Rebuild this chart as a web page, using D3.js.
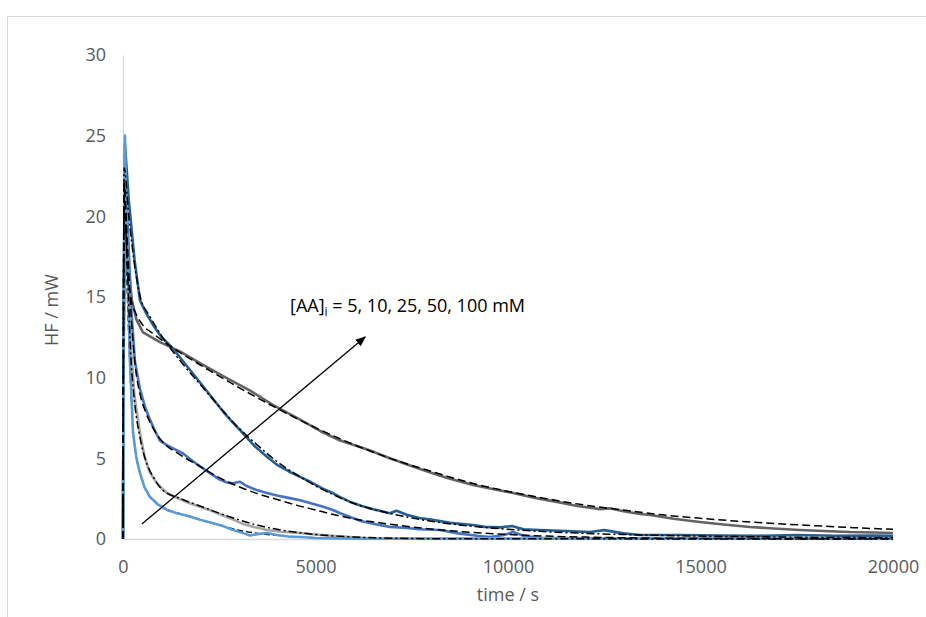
<!doctype html>
<html>
<head>
<meta charset="utf-8">
<title>HF</title>
<style>
  body { margin: 0; background: #fff; }
  svg { display: block; font-family: "Open Sans", sans-serif; }
</style>
</head>
<body>
<svg width="926" height="617"></svg>
<script src="https://cdn.jsdelivr.net/npm/d3@7"></script>
<script>
// [t (s), HF (mW)]
var aa5 = [[0,0],[20,14],[50,25],[100,19],[180,11],[260,6.6],[350,5.0],[440,4.1],[560,3.2],[700,2.6],[900,2.15],[1140,1.8],[1400,1.6],[1700,1.42],[2000,1.2],[2300,1.0],[2600,0.8],[2860,0.56],[3100,0.38],[3300,0.22],[3500,0.3],[3740,0.37],[4000,0.25],[4300,0.15],[4600,0.12],[5000,0.06],[5500,0.04],[6000,0.03],[7000,0.02],[20000,0.02]];
var aa10 = [[0,0],[20,13],[50,23],[110,18],[200,12],[300,8.8],[440,6.6],[560,5.1],[700,4.1],[900,3.4],[1140,2.85],[1400,2.55],[1700,2.25],[2000,2.0],[2300,1.75],[2600,1.45],[2860,1.2],[3100,0.95],[3400,0.75],[3740,0.56],[4100,0.45],[4600,0.37],[5000,0.28],[5500,0.18],[5900,0.12],[6400,0.05],[7000,0.03],[20000,0.02]];
var aa25 = [[0,0],[20,14],[60,23],[130,19],[220,14],[310,11],[440,9.3],[570,8.2],[700,7.4],[830,6.7],[960,6.1],[1150,5.8],[1350,5.55],[1560,5.3],[1800,4.85],[2000,4.5],[2250,4.1],[2500,3.7],[2700,3.5],[2850,3.45],[3040,3.55],[3200,3.3],[3450,3.05],[3740,2.85],[4000,2.7],[4300,2.55],[4600,2.4],[4900,2.2],[5200,2.0],[5450,1.8],[5640,1.6],[5900,1.36],[6200,1.1],[6600,0.9],[6930,0.75],[7300,0.7],[7700,0.6],[8230,0.56],[8700,0.35],[9200,0.2],[9530,0.12],[9900,0.25],[10130,0.43],[10400,0.2],[10830,0.08],[11500,0.06],[12500,0.05],[14000,0.04],[16000,0.05],[18000,0.04],[20000,0.05]];
var aa50 = [[0,0],[20,15],[50,24.5],[150,21],[300,17.3],[440,14.8],[600,14.0],[800,13.2],[1000,12.5],[1140,12.2],[1400,11.5],[1700,10.6],[2000,9.7],[2300,8.8],[2600,7.9],[2860,7.2],[3100,6.6],[3400,5.8],[3740,5.1],[4000,4.6],[4300,4.2],[4600,3.85],[4900,3.5],[5200,3.1],[5450,2.85],[5640,2.6],[5900,2.3],[6200,2.05],[6500,1.85],[6930,1.6],[7100,1.75],[7370,1.5],[7700,1.3],[8000,1.2],[8500,1.0],[9090,0.87],[9400,0.75],[9800,0.72],[10100,0.8],[10400,0.6],[10830,0.56],[11500,0.5],[12130,0.43],[12500,0.55],[13000,0.35],[13430,0.25],[14500,0.25],[15500,0.22],[16500,0.2],[17500,0.25],[18500,0.2],[19500,0.22],[20000,0.2]];
var aa100 = [[0,0],[20,12],[50,21],[120,17.5],[230,14.8],[350,13.6],[520,12.8],[960,12.2],[1500,11.6],[2000,10.9],[2600,10.1],[3300,9.2],[3900,8.3],[4600,7.4],[5200,6.6],[5640,6.1],[5900,5.9],[6400,5.5],[6930,5.0],[7400,4.6],[7790,4.28],[8400,3.8],[9090,3.35],[9600,3.1],[10130,2.85],[10700,2.55],[11270,2.3],[11800,2.05],[12390,1.85],[12650,1.9],[13000,1.72],[13430,1.55],[13690,1.49],[14300,1.25],[14980,1.05],[15600,0.9],[16280,0.74],[16900,0.65],[17580,0.56],[18200,0.5],[18880,0.43],[19500,0.4],[20000,0.37]];

// model fits (black dashed)
var fit5 = [[0,0],[30,22],[100,16],[180,10.5],[260,6.8],[350,5.0],[450,4.0],[600,3.0],[800,2.4],[1100,1.9],[1500,1.55],[2000,1.2],[2500,0.85],[3000,0.55],[3500,0.35],[4000,0.22],[5000,0.08],[6000,0.03],[20000,0]];
var fit10 = [[0,0],[30,21],[110,17],[200,11.5],[300,8.5],[440,6.3],[600,4.8],[800,3.8],[1000,3.1],[1500,2.5],[2000,2.05],[2500,1.6],[3000,1.2],[3500,0.85],[4000,0.6],[4500,0.42],[5000,0.28],[6000,0.12],[7000,0.05],[8000,0.02],[20000,0]];
var fit25 = [[0,0],[30,22],[120,18],[220,13.5],[320,10.7],[450,8.9],[600,7.8],[800,6.8],[1000,6.1],[1500,5.2],[2000,4.5],[2500,3.8],[3000,3.25],[3500,2.8],[4000,2.45],[4500,2.1],[5000,1.8],[5500,1.5],[6000,1.25],[7000,0.9],[8000,0.62],[9000,0.42],[10000,0.28],[11000,0.18],[12000,0.12],[14000,0.05],[20000,0.01]];
var fit50 = [[0,0],[30,23],[150,20],[300,17.0],[450,15],[700,13.8],[1000,12.6],[1500,11.0],[2000,9.6],[2500,8.2],[3000,6.9],[3500,5.8],[4000,4.8],[4500,4.0],[5000,3.3],[5500,2.7],[6000,2.2],[7000,1.55],[8000,1.1],[9000,0.8],[10000,0.6],[11000,0.45],[12000,0.35],[13000,0.28],[14000,0.22],[16000,0.15],[18000,0.1],[20000,0.08]];
var fit100 = [[0,0],[30,22],[100,17.5],[200,15.0],[350,13.9],[500,13.3],[800,12.7],[1200,12.0],[2000,10.8],[3000,9.4],[4000,8.1],[5000,6.9],[6000,5.85],[7000,4.95],[8000,4.2],[9000,3.5],[10000,2.95],[11000,2.5],[12000,2.1],[13000,1.8],[14000,1.5],[15000,1.28],[16000,1.1],[17000,0.95],[18000,0.82],[19000,0.7],[20000,0.6]];

var xTicks = [0, 5000, 10000, 15000, 20000];
var yTicks = [0, 5, 10, 15, 20, 25, 30];

var svg = d3.select("svg"),
    margin = { top: 55, right: 33, bottom: 78, left: 123 },
    width = +svg.attr("width") - margin.left - margin.right,
    height = +svg.attr("height") - margin.top - margin.bottom;

// outer chart frame
svg.append("rect")
    .attr("x", 7.5).attr("y", 16.5)
    .attr("width", 940).attr("height", 640)
    .attr("fill", "none").attr("stroke", "#d9d9d9");

var g = svg.append("g").attr("transform", "translate(" + margin.left + "," + margin.top + ")");

var x = d3.scaleLinear().domain([0, 20000]).range([0, width]);
var y = d3.scaleLinear().domain([0, 30]).range([height, 0]);

var xAxisG = g.append("g")
    .attr("transform", "translate(0," + height + ")")
    .call(d3.axisBottom(x).tickValues(xTicks).tickSize(0).tickPadding(21).tickFormat(d3.format("d")));
var yAxisG = g.append("g")
    .call(d3.axisLeft(y).tickValues(yTicks).tickSize(0).tickPadding(17));

[xAxisG, yAxisG].forEach(function(a) {
    a.select(".domain").attr("stroke", "#d9d9d9").attr("stroke-width", 1.3);
    a.selectAll("text").attr("fill", "#595959").style("font-size", "18px").style("font-family", "'Open Sans', sans-serif");
});

var line = d3.line()
    .x(function(d) { return x(d[0]); })
    .y(function(d) { return y(d[1]); });
var smooth = d3.line()
    .x(function(d) { return x(d[0]); })
    .y(function(d) { return y(d[1]); })
    .curve(d3.curveMonotoneX);

function drawFit(data, dash, w) {
    g.append("path")
        .datum(data)
        .attr("d", smooth)
        .attr("fill", "none")
        .attr("stroke", "#000")
        .attr("stroke-width", w)
        .attr("stroke-dasharray", dash);
}

// the 5 mM fit sits under its trace
drawFit(fit5, "6,3", 1.3);

var series = [
    { data: aa100, color: "#636363" },
    { data: aa50, color: "#255e91" },
    { data: aa25, color: "#4472c4" },
    { data: aa10, color: "#a5a5a5" },
    { data: aa5, color: "#5b9bd5" }
];
series.forEach(function(s) {
    g.append("path")
        .datum(s.data)
        .attr("d", line)
        .attr("fill", "none")
        .attr("stroke", s.color)
        .attr("stroke-width", 2.6)
        .attr("stroke-linejoin", "round");
});

drawFit(fit100, "8,4", 1.5);
drawFit(fit50, "8,3,2,3", 1.5);
drawFit(fit25, "8,4", 1.5);
drawFit(fit10, "8,3,2,3", 1.5);

// axis titles
svg.append("text")
    .attr("x", margin.left + width / 2).attr("y", 601)
    .attr("text-anchor", "middle")
    .attr("fill", "#595959").style("font-size", "18px")
    .text("time / s");
svg.append("text")
    .attr("transform", "translate(58,310) rotate(-90)")
    .attr("text-anchor", "middle")
    .attr("fill", "#595959").style("font-size", "18px")
    .text("HF / mW");

// annotation arrow
svg.append("defs").append("marker")
    .attr("id", "arrow")
    .attr("viewBox", "0 0 10 10")
    .attr("refX", 9).attr("refY", 5)
    .attr("markerWidth", 8).attr("markerHeight", 8)
    .attr("orient", "auto")
    .append("path").attr("d", "M0,1 L10,5 L0,9 Z").attr("fill", "#000");

g.append("line")
    .attr("x1", x(490)).attr("y1", y(0.93))
    .attr("x2", x(6290)).attr("y2", y(12.52))
    .attr("stroke", "#000").attr("stroke-width", 1.3)
    .attr("marker-end", "url(#arrow)");

var ann = svg.append("text")
    .attr("x", 290).attr("y", 312)
    .attr("fill", "#000").style("font-size", "18px");
ann.append("tspan").text("[AA]");
ann.append("tspan").attr("dy", 4).style("font-size", "12px").text("i");
ann.append("tspan").attr("dy", -4).text(" = 5, 10, 25, 50, 100 mM");
</script>
</body>
</html>
